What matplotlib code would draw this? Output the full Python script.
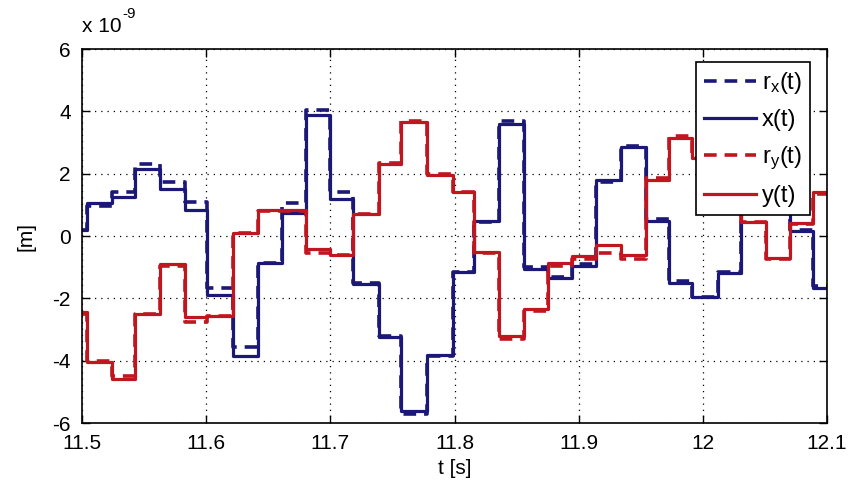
import numpy as np
import matplotlib
matplotlib.use('Agg')
from matplotlib import pyplot as plt

plt.rcParams['font.family'] = ['Liberation Sans', 'DejaVu Sans']
plt.rcParams['axes.unicode_minus'] = False
plt.rcParams['mathtext.fontset'] = 'custom'
plt.rcParams['mathtext.rm'] = 'Liberation Sans'
plt.rcParams['mathtext.it'] = 'Liberation Sans'

# step edges [s]
t_edges = [11.5, 11.504, 11.524, 11.543, 11.563, 11.583, 11.601, 11.6215, 11.6416,
           11.661, 11.680, 11.6995, 11.718, 11.739, 11.757, 11.778, 11.7985, 11.816,
           11.836, 11.856, 11.875, 11.895, 11.914, 11.934, 11.954, 11.973, 11.9915,
           12.012, 12.031, 12.051, 12.070, 12.089, 12.1]

# levels in units of 1e-9 m, one per interval
rx = [0.2, 0.95, 1.4, 2.3, 1.75, 1.1, -1.65, -3.55, -0.85, 1.05, 4.05, 1.4, -1.5,
      -3.2, -5.7, -3.85, -1.15, 0.45, 3.7, -1.0, -1.3, -0.9, 1.75, 2.9, 0.55, -1.45,
      -1.95, -1.15, 1.5, 1.2, 0.2, -1.6]
x = [0.2, 1.05, 1.25, 2.15, 1.5, 0.85, -1.9, -3.85, -0.85, 0.75, 3.9, 1.2, -1.55,
     -3.25, -5.6, -3.8, -1.15, 0.5, 3.6, -1.05, -1.35, -0.95, 1.8, 2.85, 0.5, -1.5,
     -1.95, -1.2, 1.5, 1.2, 0.15, -1.65]
ry = [-2.5, -4.0, -4.5, -2.5, -0.95, -2.75, -2.55, 0.1, 0.8, 0.8, -0.55, -0.6, 0.7,
      2.35, 3.7, 2.0, 1.4, -0.55, -3.3, -2.4, -0.95, -0.75, -0.55, -0.75, 1.85, 3.2,
      2.5, 1.5, 0.45, -0.75, 0.4, 1.35]
y = [-2.45, -4.05, -4.6, -2.5, -0.9, -2.6, -2.55, 0.1, 0.85, 0.85, -0.4, -0.6, 0.7,
     2.3, 3.65, 1.95, 1.4, -0.5, -3.2, -2.35, -0.85, -0.65, -0.3, -0.6, 1.8, 3.15,
     2.5, 1.5, 0.45, -0.7, 0.42, 1.4]

blue = '#1c1878'
red = '#c0161f'

def ext(v):
    return np.array(v + [v[-1]])

fig = plt.figure(figsize=(8.5, 4.96), dpi=100)
ax = fig.add_axes([0.0965, 0.147, 0.8765, 0.754])

ax.plot(t_edges, ext(rx), drawstyle='steps-post', color=blue, lw=2.6, ls=(0, (3.5, 2.2)), label=r'$\mathregular{r_x(t)}$')
ax.plot(t_edges, ext(x), drawstyle='steps-post', color=blue, lw=2.3, label='x(t)')
ax.plot(t_edges, ext(ry), drawstyle='steps-post', color=red, lw=2.6, ls=(0, (3.5, 2.2)), label=r'$\mathregular{r_y(t)}$')
ax.plot(t_edges, ext(y), drawstyle='steps-post', color=red, lw=2.3, label='y(t)')

ax.set_xlim(11.5, 12.1)
ax.set_ylim(-6, 6)
ax.set_xticks([11.5, 11.6, 11.7, 11.8, 11.9, 12.0, 12.1])
ax.set_xticklabels(['11.5', '11.6', '11.7', '11.8', '11.9', '12', '12.1'])
ax.set_yticks([-6, -4, -2, 0, 2, 4, 6])
ax.grid(True, ls=(0, (1, 4)), color='black', lw=0.9)
ax.tick_params(direction='in', top=True, right=True, length=6, width=1, labelsize=15, pad=8)
for s in ax.spines.values():
    s.set_linewidth(1.2)

ax.set_xlabel('t [s]', fontsize=15, labelpad=4)
ax.set_ylabel('[m]', fontsize=15, labelpad=12)
ax.text(0.0, 1.035, 'x 10', transform=ax.transAxes, fontsize=15, va='bottom', ha='left')
ax.text(0.054, 1.075, '-9', transform=ax.transAxes, fontsize=11, va='bottom', ha='left')

leg = ax.legend(loc='upper right', bbox_to_anchor=(0.977, 0.965), fontsize=17, frameon=True, fancybox=False,
                edgecolor='black', framealpha=1, handlelength=2.2, handletextpad=0.25, borderpad=0.35,
                labelspacing=0.55, borderaxespad=0)
leg.get_frame().set_linewidth(1.2)

fig.savefig('out.png', dpi=100)
